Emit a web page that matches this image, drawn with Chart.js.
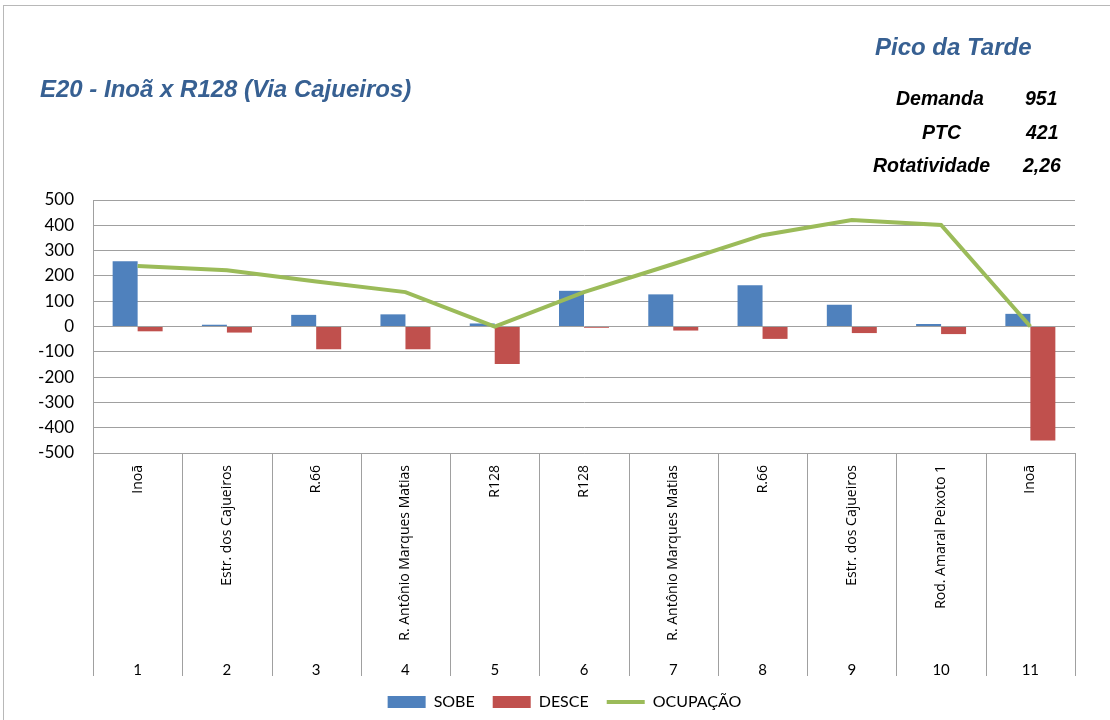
<!DOCTYPE html>
<html>
<head>
<meta charset="utf-8">
<script src="https://cdn.jsdelivr.net/npm/chart.js@4/dist/chart.umd.min.js"></script>
<style>
    body { margin: 0; background: #fff; }
    #wrap { position: relative; width: 1110px; height: 720px; overflow: hidden; }
    #frame { position: absolute; left: 3px; top: 5px; width: 1130px; height: 740px; border: 1px solid #b8b8b8; }
    #myChart { position: absolute; left: 0; top: 0; }
    .t { position: absolute; font-family: "Liberation Sans", Arial, sans-serif; font-weight: bold; font-style: italic; line-height: 1; white-space: nowrap; }
    .blue { color: #376092; }
    .big { font-size: 24px; }
    .small { font-size: 19.5px; color: #000; }
</style>
</head>
<body>
<div id="wrap">
    <div id="frame"></div>
    <canvas id="myChart" width="1110" height="720"></canvas>
    <div class="t big blue" style="left:40px;top:77px;">E20 - Inoã x R128 (Via Cajueiros)</div>
    <div class="t big blue" style="left:875px;top:35px;">Pico da Tarde</div>
    <div class="t small" style="left:896px;top:89px;">Demanda</div>
    <div class="t small blue" style="left:1025px;top:89px;">951</div>
    <div class="t small" style="left:922px;top:123px;">PTC</div>
    <div class="t small blue" style="left:1026px;top:123px;">421</div>
    <div class="t small" style="left:873px;top:156px;">Rotatividade</div>
    <div class="t small blue" style="left:1023px;top:156px;">2,26</div>
</div>
<script>
// data
const stops = ["Inoã", "Estr. dos Cajueiros", "R.66", "R. Antônio Marques Matias", "R128",
    "R128", "R. Antônio Marques Matias", "R.66", "Estr. dos Cajueiros", "Rod. Amaral Peixoto 1", "Inoã"];
const stop_nums = ["1", "2", "3", "4", "5", "6", "7", "8", "9", "10", "11"];
const sobe = [258, 7, 46, 48, 12, 141, 127, 163, 86, 10, 50];
const desce = [-19, -24, -90, -90, -148, -5, -16, -49, -26, -30, -451];
const ocupacao = [239, 222, 178, 136, 0, 136, 247, 361, 421, 401, 0];

const grid_color = "#a0a0a0";
const legend_shift = 27; // original legend sits a bit right of centre

// vertical separators under the plot, one per category boundary
const separators = {
    id: "separators",
    afterLayout(chart) {
        chart.legend.left += legend_shift;
        chart.legend.right += legend_shift;
    },
    afterDraw(chart) {
        const x = chart.scales.x;
        const x2 = chart.scales.x2;
        const n = stops.length;
        const w = (x.right - x.left) / n;
        const ctx = chart.ctx;
        ctx.save();
        ctx.strokeStyle = grid_color;
        ctx.lineWidth = 1;
        ctx.beginPath();
        for (let i = 0; i <= n; i++) {
            const px = Math.round(x.getPixelForValue(0) - w / 2 + i * w) + 0.5;
            ctx.moveTo(px, x.top);
            ctx.lineTo(px, x2.bottom);
        }
        ctx.stroke();
        ctx.restore();
    },
};

const ctx1 = document.getElementById("myChart").getContext("2d");
const chart = new Chart(ctx1, {
    type: "bar",
    data: {
        labels: stops,
        datasets: [
            {
                label: "SOBE",
                data: sobe,
                backgroundColor: "#4F81BD",
                borderWidth: 0,
                pointStyle: "rect",
                order: 1,
            },
            {
                label: "DESCE",
                data: desce,
                backgroundColor: "#C0504D",
                borderWidth: 0,
                pointStyle: "rect",
                order: 1,
            },
            {
                type: "line",
                label: "OCUPAÇÃO",
                data: ocupacao,
                borderColor: "#9BBB59",
                backgroundColor: "#9BBB59",
                borderWidth: 4,
                pointRadius: 0,
                pointStyle: "line",
                tension: 0,
                order: 0,
            },
        ],
    },
    options: {
        responsive: false,
        animation: false,
        devicePixelRatio: 1,
        layout: { padding: { left: 0, right: 35, top: 200, bottom: 0 } },
        datasets: {
            bar: { categoryPercentage: 0.56, barPercentage: 1.0 },
        },
        scales: {
            y: {
                min: -500,
                max: 500,
                ticks: {
                    stepSize: 100,
                    padding: 19,
                    color: "#000",
                    font: { family: "Lato", size: 17 },
                },
                grid: { color: grid_color, drawTicks: false },
                border: { color: grid_color },
                afterFit(scale) { scale.width = 93; },
            },
            x: {
                offset: true,
                ticks: {
                    autoSkip: false,
                    minRotation: 90,
                    maxRotation: 90,
                    padding: 12,
                    color: "#000",
                    font: { family: "Open Sans", size: 14 },
                },
                grid: { display: false, drawTicks: false },
                border: { display: true, color: grid_color },
                afterFit(scale) { scale.height = 199; },
            },
            x2: {
                type: "category",
                labels: stop_nums,
                position: "bottom",
                offset: true,
                weight: 1,
                ticks: {
                    padding: 9,
                    color: "#000",
                    font: { family: "Lato", size: 15 },
                },
                grid: { display: false, drawTicks: false },
                border: { display: false },
                afterFit(scale) { scale.height = 24; },
            },
        },
        plugins: {
            legend: {
                position: "bottom",
                labels: {
                    usePointStyle: true,
                    pointStyleWidth: 38,
                    boxHeight: 12,
                    padding: 18,
                    color: "#000",
                    font: { family: "Lato", size: 16 },
                    sort: (a, b) => a.datasetIndex - b.datasetIndex,
                },
            },
            tooltip: { enabled: false },
        },
    },
    plugins: [separators],
});
</script>
</body>
</html>
